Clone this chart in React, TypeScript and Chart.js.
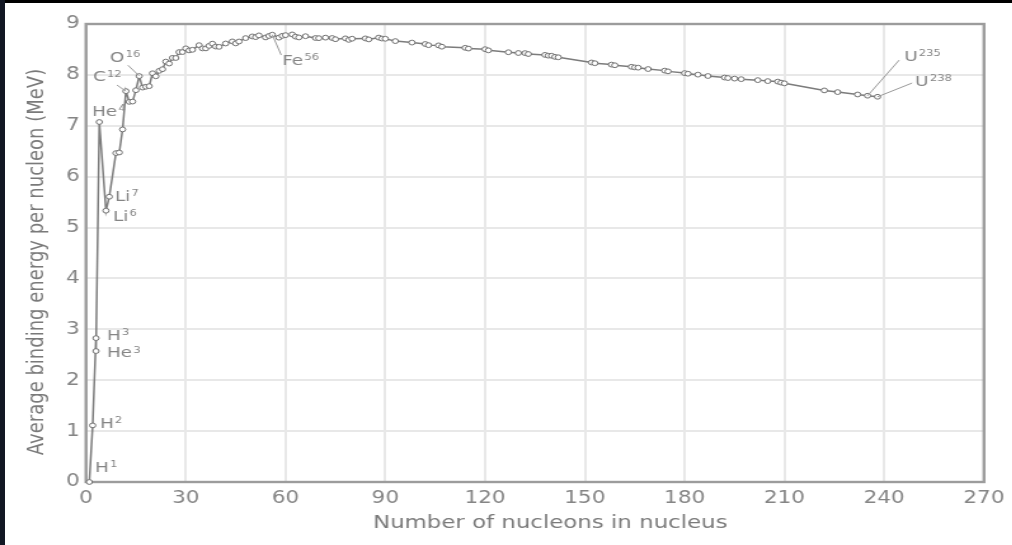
import React, { useEffect, useRef } from "react";
import { Chart, registerables } from "chart.js";

Chart.register(...registerables);

// ---- data ----
const NUCLEONS = [
  1, 2, 3, 3, 4, 6, 7, 9, 10, 11, 12, 13, 14, 15, 16, 17, 18, 19, 20, 21, 22, 23, 24, 25, 26, 27, 28, 29, 30,
  31, 32, 34, 35, 36, 37, 38, 39, 40, 42, 44, 45, 46, 48, 50, 51, 52, 54, 55, 56, 58, 59, 60, 62, 63, 64, 66,
  69, 70, 72, 74, 75, 78, 79, 80, 84, 85, 88, 89, 90, 93, 98, 102, 103, 106, 107, 114, 115, 120, 121, 127,
  130, 132, 133, 138, 139, 140, 141, 142, 152, 153, 158, 159, 164, 165, 166, 169, 174, 175, 180, 181, 184,
  187, 192, 193, 195, 197, 202, 205, 208, 209, 210, 222, 226, 232, 235, 238,
];
const BINDING_MEV = [
  0, 1.112, 2.827, 2.573, 7.074, 5.332, 5.606, 6.463, 6.475, 6.928, 7.68, 7.47, 7.476, 7.699, 7.976, 7.751,
  7.767, 7.779, 8.032, 7.972, 8.08, 8.112, 8.261, 8.223, 8.334, 8.332, 8.448, 8.449, 8.521, 8.481, 8.493,
  8.584, 8.52, 8.52, 8.57, 8.614, 8.557, 8.551, 8.617, 8.658, 8.619, 8.656, 8.723, 8.756, 8.742, 8.776,
  8.736, 8.765, 8.79, 8.732, 8.768, 8.781, 8.795, 8.752, 8.736, 8.76, 8.725, 8.722, 8.732, 8.725, 8.701,
  8.718, 8.688, 8.711, 8.717, 8.697, 8.733, 8.714, 8.71, 8.664, 8.635, 8.607, 8.584, 8.58, 8.554, 8.532,
  8.517, 8.505, 8.482, 8.445, 8.43, 8.428, 8.41, 8.393, 8.378, 8.376, 8.354, 8.346, 8.244, 8.229, 8.202,
  8.189, 8.159, 8.147, 8.142, 8.115, 8.084, 8.069, 8.035, 8.023, 8.005, 7.978, 7.948, 7.938, 7.927, 7.916,
  7.897, 7.878, 7.868, 7.848, 7.834, 7.695, 7.662, 7.615, 7.591, 7.57,
];

const X_MIN = 0;
const X_MAX = 270;
const X_STEP = 30;
const Y_MIN = 0;
const Y_MAX = 9;
const Y_STEP = 1;

const X_TITLE = "Number of nucleons in nucleus";
const Y_TITLE = "Average binding energy per nucleon (MeV)";

// nuclide labels: element symbol, mass number, anchor in data units (left edge, middle)
const LABEL_SYMBOL = ["H", "H", "H", "He", "He", "Li", "Li", "C", "O", "Fe", "U", "U"];
const LABEL_MASS = ["1", "2", "3", "3", "4", "7", "6", "12", "16", "56", "235", "238"];
const LABEL_A = [2.7, 4.2, 6.3, 6.3, 1.8, 8.7, 8.1, 2.1, 7.2, 59.0, 246.0, 249.3];
const LABEL_E = [0.28, 1.14, 2.87, 2.53, 7.27, 5.6, 5.21, 7.95, 8.33, 8.27, 8.35, 7.86];

// leader lines (data units)
const LEADER_FROM_A = [9.3, 12.6, 56, 235, 238];
const LEADER_FROM_E = [7.8, 8.19, 8.79, 7.59, 7.57];
const LEADER_TO_A = [12, 16, 58.7, 244.5, 248.4];
const LEADER_TO_E = [7.68, 7.98, 8.39, 8.29, 7.84];

// ---- styling / layout ----
const STRETCH = 1.27; // the reference is horizontally stretched
const PAGE_W = 1012;
const PAGE_H = 545;
const CANVAS_W = Math.round(PAGE_W / STRETCH);
const AREA_LEFT = 86 / STRETCH;
const AREA_RIGHT = 987 / STRETCH;
const FONT = "'DejaVu Sans', Verdana, sans-serif";
const TEXT = "#858585";
const GRID = "#e8e8e8";
const FRAME = "#9c9c9c";
const LINE = "#7c7c7c";

const overlayPlugin = {
  id: "nuclideOverlay",
  beforeDatasetsDraw(chart: any) {
    const { ctx, chartArea: a } = chart;
    ctx.save();
    ctx.strokeStyle = FRAME;
    ctx.lineWidth = 2.4;
    ctx.strokeRect(a.left, a.top, a.right - a.left, a.bottom - a.top);
    ctx.restore();
  },
  afterDatasetsDraw(chart: any) {
    const { ctx, chartArea: a } = chart;
    const xs = chart.scales.x;
    const ys = chart.scales.y;
    ctx.save();
    // leaders
    ctx.strokeStyle = "#9a9a9a";
    ctx.lineWidth = 1;
    LEADER_FROM_A.forEach((fa, i) => {
      ctx.beginPath();
      ctx.moveTo(xs.getPixelForValue(fa), ys.getPixelForValue(LEADER_FROM_E[i]));
      ctx.lineTo(xs.getPixelForValue(LEADER_TO_A[i]), ys.getPixelForValue(LEADER_TO_E[i]));
      ctx.stroke();
    });
    // nuclide labels
    ctx.fillStyle = TEXT;
    ctx.textAlign = "left";
    ctx.textBaseline = "middle";
    LABEL_SYMBOL.forEach((sym, i) => {
      const px = xs.getPixelForValue(LABEL_A[i]);
      const py = ys.getPixelForValue(LABEL_E[i]);
      ctx.font = `14.5px ${FONT}`;
      ctx.fillText(sym, px, py);
      const w = ctx.measureText(sym).width;
      ctx.font = `9px ${FONT}`;
      ctx.fillText(LABEL_MASS[i], px + w + 1, py - 3);
    });
    // axis titles
    ctx.font = `18px ${FONT}`;
    ctx.fillStyle = "#7a7a7a";
    ctx.textAlign = "center";
    ctx.textBaseline = "middle";
    ctx.fillText(X_TITLE, (a.left + a.right) / 2 + 12, 523);
    ctx.translate(29, (a.top + a.bottom) / 2 + 9);
    ctx.rotate(-Math.PI / 2);
    ctx.fillText(Y_TITLE, 0, 0);
    ctx.restore();
  },
};

export default function App() {
  const ref = useRef<HTMLCanvasElement>(null);

  useEffect(() => {
    if (!ref.current) return;
    const points = NUCLEONS.map((a, i) => ({ x: a, y: BINDING_MEV[i] }));
    const tickFont = { family: FONT, size: 17 };
    const chart = new Chart(ref.current, {
      type: "scatter",
      data: {
        datasets: [
          {
            data: points,
            showLine: true,
            borderColor: LINE,
            borderWidth: 1.5,
            pointRadius: 2.4,
            pointBorderWidth: 1,
            pointBackgroundColor: "#ffffff",
            pointBorderColor: "#6f6f6f",
            clip: false as any,
          },
        ],
      },
      options: {
        animation: false,
        responsive: false,
        layout: { padding: { top: 24, right: CANVAS_W - AREA_RIGHT, bottom: 0, left: 0 } },
        plugins: { legend: { display: false }, tooltip: { enabled: false } },
        scales: {
          x: {
            type: "linear",
            min: X_MIN,
            max: X_MAX,
            ticks: { stepSize: X_STEP, color: TEXT, font: tickFont, padding: 6, maxRotation: 0 },
            grid: { color: GRID, lineWidth: 2, drawTicks: false },
            border: { display: false },
            afterFit: (s: any) => {
              s.height = 63;
            },
          },
          y: {
            type: "linear",
            min: Y_MIN,
            max: Y_MAX,
            ticks: { stepSize: Y_STEP, color: TEXT, font: tickFont, padding: 5 },
            grid: { color: GRID, lineWidth: 2, drawTicks: false },
            border: { display: false },
            afterFit: (s: any) => {
              s.width = AREA_LEFT;
            },
          },
        },
      },
      plugins: [overlayPlugin],
    });
    return () => chart.destroy();
  }, []);

  return (
    <div
      style={{
        position: "fixed",
        left: 0,
        top: 0,
        width: PAGE_W,
        height: PAGE_H,
        background: "#ffffff",
        overflow: "hidden",
      }}
    >
      <div
        style={{
          position: "absolute",
          left: 0,
          top: 0,
          width: CANVAS_W,
          height: PAGE_H,
          transform: `scaleX(${STRETCH})`,
          transformOrigin: "0 0",
        }}
      >
        <canvas ref={ref} width={CANVAS_W} height={PAGE_H} />
      </div>
      <div style={{ position: "absolute", left: 0, top: 0, width: PAGE_W, height: 3, background: "#000000" }} />
      <div style={{ position: "absolute", left: 0, top: 0, width: 5, height: PAGE_H, background: "#121723" }} />
    </div>
  );
}
